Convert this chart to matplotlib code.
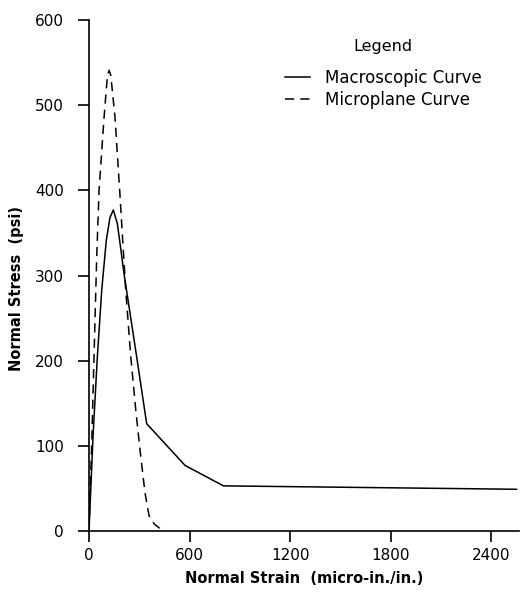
import matplotlib
matplotlib.use("Agg")
import matplotlib.pyplot as plt

# Macroscopic curve (strain in micro-in./in., stress in psi)
macro_strain = [0, 24, 50, 76, 103, 125, 145, 169, 189, 209, 284, 344, 573, 802, 2550]
macro_stress = [0, 111, 205, 283, 341, 368, 377, 361, 332, 302, 205, 126, 77, 53, 49]

# Microplane curve
micro_strain = [0, 5, 14, 30, 46, 60, 90, 110, 120, 130, 155, 183, 219, 249, 280, 309, 334, 358, 390, 430, 454]
micro_stress = [0, 40, 87, 205, 322, 400, 486, 535, 541, 535, 486, 400, 283, 205, 140, 87, 45, 18, 8, 2, 0]

x_ticks = [0, 600, 1200, 1800, 2400]
y_ticks = [0, 100, 200, 300, 400, 500, 600]

fig = plt.figure(figsize=(5.27, 5.96), dpi=100)
ax = fig.add_axes([89/527, 1-531/596, (519-89)/527, (531-20)/596])

ax.plot(macro_strain, macro_stress, color="black", lw=1.1, label="Macroscopic Curve")
ax.plot(micro_strain, micro_stress, color="black", lw=1.1, dashes=(6, 4), label="Microplane Curve")

ax.set_xlim(0, 2565)
ax.set_ylim(0, 600)
ax.set_xticks(x_ticks)
ax.set_yticks(y_ticks)
for s in ["top", "right"]:
    ax.spines[s].set_visible(False)
for s in ["left", "bottom"]:
    ax.spines[s].set_linewidth(1.2)
ax.tick_params(direction="out", length=8, width=1.2, labelsize=11)
ax.tick_params(axis="y", pad=10)
ax.tick_params(axis="x", pad=4)

ax.set_xlabel("Normal Strain  (micro-in./in.)", fontsize=10.5, fontweight="bold")
ax.xaxis.set_label_coords(0.5, -0.078)
ax.set_ylabel("Normal Stress  (psi)", fontsize=10.5, fontweight="bold")
ax.yaxis.set_label_coords(-0.151, 0.475)

fig.text(383/527, 1-47/596, "Legend", fontsize=11.5, ha="center", va="center")

leg = ax.legend(frameon=False, loc="upper left",
                bbox_to_anchor=(0.456, 0.905), fontsize=12,
                handlelength=1.5, handletextpad=0.9, labelspacing=0.28,
                borderpad=0, borderaxespad=0)

fig.savefig("out.png", dpi=100)
